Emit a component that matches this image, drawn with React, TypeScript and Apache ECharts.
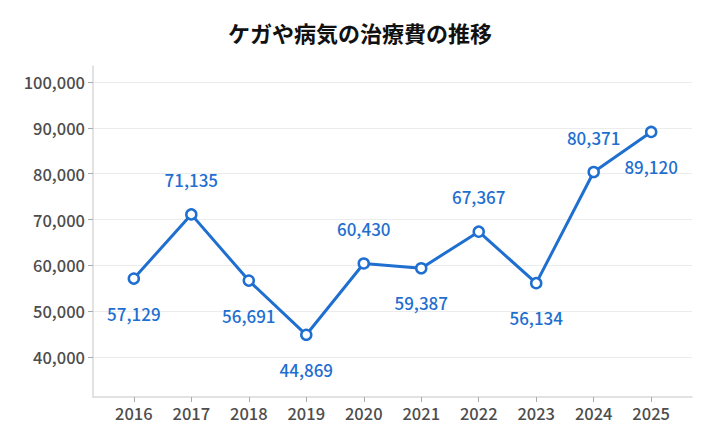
import React, { useEffect, useRef } from "react";
import * as echarts from "echarts";

const years = [2016, 2017, 2018, 2019, 2020, 2021, 2022, 2023, 2024, 2025];
const costs = [57129, 71135, 56691, 44869, 60430, 59387, 67367, 56134, 80371, 89120];
// label above ("top") or below ("bottom") each point
const labelSides = ["bottom", "top", "bottom", "bottom", "top", "bottom", "top", "bottom", "top", "bottom"];
const yTicks = [40000, 50000, 60000, 70000, 80000, 90000, 100000];

const FONT = '"Noto Sans CJK JP", "Noto Sans", sans-serif';
const BLUE = "#1f6fd0";

const App: React.FC = () => {
  const chartRef = useRef<HTMLDivElement>(null);

  useEffect(() => {
    if (!chartRef.current) return;
    document.body.style.margin = "0";
    const chart = echarts.init(chartRef.current, null, { renderer: "svg" });

    const option = {
      animation: false,
      backgroundColor: "#fff",
      textStyle: { fontFamily: FONT },
      title: {
        text: "ケガや病気の治療費の推移",
        left: "center",
        top: 16,
        textStyle: { fontFamily: FONT, fontSize: 22, fontWeight: "bold", color: "#111" }
      },
      grid: { left: 93, right: 28, top: 66, bottom: 49 },
      xAxis: {
        type: "value",
        min: 2015.29,
        max: 2025.71,
        axisLine: { show: true, lineStyle: { color: "#d9d9d9", width: 1.5 } },
        axisTick: { show: true, customValues: years, length: 5, lineStyle: { color: "#aaa" } },
        axisLabel: {
          customValues: years,
          formatter: (v: number) => String(v),
          color: "#4d4d4d",
          fontSize: 16.5,
          fontWeight: 500,
          margin: 8,
          fontFamily: FONT
        },
        splitLine: { show: false }
      },
      yAxis: {
        type: "value",
        min: 31300,
        max: 103500,
        axisLine: { show: true, lineStyle: { color: "#d9d9d9", width: 1.5 } },
        axisTick: { show: true, customValues: yTicks, length: 5, lineStyle: { color: "#aaa" } },
        axisLabel: {
          customValues: yTicks,
          formatter: (v: number) => v.toLocaleString("en-US"),
          color: "#4d4d4d",
          fontSize: 16.5,
          fontWeight: 500,
          margin: 8,
          fontFamily: FONT
        },
        splitLine: { show: false }
      },
      series: [
        {
          type: "line",
          data: years.map((y, i) => ({
            value: [y, costs[i]],
            label: { position: labelSides[i] }
          })),
          lineStyle: { color: BLUE, width: 3 },
          itemStyle: { color: "#fff", borderColor: BLUE, borderWidth: 2.5 },
          symbol: "circle",
          symbolSize: 10,
          label: {
            show: true,
            distance: 20,
            color: BLUE,
            fontSize: 17,
            fontWeight: 500,
            fontFamily: FONT,
            formatter: (p: any) => p.value[1].toLocaleString("en-US")
          },
          markLine: {
            silent: true,
            symbol: "none",
            label: { show: false },
            lineStyle: { color: "#ececec", type: "solid", width: 1 },
            data: yTicks.map((v) => ({ yAxis: v })),
            z: 0
          },
          z: 3
        }
      ]
    };

    chart.setOption(option);
    return () => {
      chart.dispose();
    };
  }, []);

  return <div ref={chartRef} style={{ width: 720, height: 446 }} />;
};

export default App;
